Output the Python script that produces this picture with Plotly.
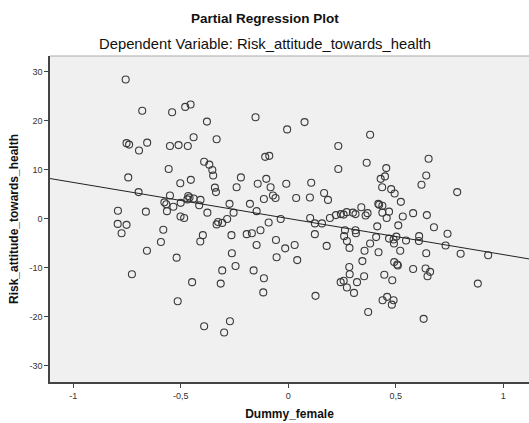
import plotly.graph_objects as go

# Partial regression residuals: Dummy_female (x) vs Risk_attitude_towards_health (y)
dummy_female = [
    -0.756, -0.679, -0.540, -0.479, -0.454, -0.378, -0.752, -0.740, -0.656, -0.694,
    -0.550, -0.510, -0.467, -0.440, -0.391, -0.367, -0.556, -0.744, -0.502, -0.453,
    -0.696, -0.550, -0.465, -0.459, -0.440, -0.469, -0.408, -0.576, -0.567, -0.500,
    -0.534, -0.414, -0.792, -0.662, -0.564, -0.376, -0.501, -0.484, -0.793, -0.752,
    -0.775, -0.581, -0.592, -0.397, -0.409, -0.657, -0.519, -0.727, -0.447, -0.514,
    -0.391, -0.353, -0.349, -0.341, -0.336, -0.333, -0.152, -0.005, 0.076, 0.233,
    0.381, -0.107, -0.088, 0.233, 0.365, -0.220, -0.102, -0.240, -0.142, -0.082,
    -0.009, 0.107, -0.071, -0.059, -0.113, 0.037, 0.101, 0.167, 0.185, -0.273,
    -0.178, -0.254, -0.147, 0.340, 0.222, 0.245, 0.258, 0.272, 0.301, 0.313,
    0.360, 0.369, 0.194, 0.102, -0.035, -0.326, -0.307, -0.333, -0.284, -0.091,
    0.124, 0.157, -0.264, -0.193, -0.169, -0.129, -0.057, -0.147, -0.014, 0.030,
    0.124, 0.179, 0.264, 0.313, 0.315, 0.260, 0.273, 0.285, 0.355, 0.381,
    -0.262, -0.054, 0.042, 0.345, -0.307, -0.245, -0.161, -0.113, -0.314, -0.116,
    0.127, 0.284, 0.286, 0.353, 0.244, 0.258, 0.273, 0.320, 0.306, 0.372,
    -0.271, -0.298, 0.653, 0.456, 0.430, 0.450, 0.642, 0.437, 0.620, 0.479,
    0.495, 0.786, 0.524, 0.419, 0.423, 0.438, 0.438, 0.469, 0.458, 0.533,
    0.581, 0.645, 0.414, 0.512, 0.678, 0.741, 0.409, 0.469, 0.492, 0.503,
    0.548, 0.609, 0.608, 0.420, 0.521, 0.642, 0.732, 0.802, 0.930, 0.493,
    0.507, 0.510, 0.581, 0.639, 0.660, 0.648, 0.447, 0.484, 0.882, 0.460,
    0.439, 0.490, 0.482, 0.630, 0.490,
]
risk_attitude = [
    28.4, 22.0, 21.7, 22.8, 23.3, 19.8, 15.4, 15.1, 15.5, 13.9,
    14.8, 15.0, 14.8, 16.6, 11.6, 11.0, 10.1, 8.4, 7.2, 7.9,
    5.4, 4.7, 4.6, 4.3, 4.1, 3.9, 3.8, 3.3, 2.9, 3.2,
    2.4, 2.7, 1.6, 1.4, 1.5, 1.2, 0.4, 0.1, -1.1, -1.3,
    -3.0, -2.3, -4.8, -3.4, -4.7, -6.6, -8.0, -11.4, -13.0, -16.9,
    -22.0, 9.9, 8.8, 6.3, 5.4, 16.2, 20.7, 18.2, 19.7, 14.8,
    17.1, 12.6, 12.8, 10.1, 11.4, 8.4, 8.1, 6.4, 7.1, 6.4,
    7.1, 7.3, 4.7, 4.2, 4.0, 4.2, 4.3, 5.2, 3.8, 3.0,
    3.0, 1.2, 1.5, 2.3, 0.7, 0.9, 0.8, 1.3, 1.2, 0.9,
    0.6, 1.1, 0.1, 0.1, -0.1, -0.7, -0.9, -1.2, -0.1, -0.8,
    -1.0, -1.0, -3.4, -3.2, -3.0, -2.4, -4.4, -5.4, -6.1, -5.4,
    -3.2, -5.6, -2.4, -2.4, -3.0, -3.6, -4.6, -6.0, -6.6, -5.1,
    -7.1, -7.9, -8.5, -8.7, -10.6, -9.7, -10.6, -12.2, -13.3, -15.1,
    -15.8, -9.9, -11.4, -11.8, -13.0, -12.7, -14.1, -13.0, -15.2, -19.1,
    -21.0, -23.3, 12.2, 10.3, 8.1, 8.6, 8.8, 6.4, 6.9, 6.0,
    5.1, 5.4, 3.4, 3.0, 2.8, 2.6, 1.2, 1.4, 0.1, 0.4,
    1.1, 0.7, -1.6, -1.4, -1.8, -3.1, -3.8, -4.1, -5.1, -3.7,
    -4.5, -3.6, -4.6, -6.9, -6.6, -7.1, -5.5, -7.2, -7.5, -8.9,
    -9.4, -9.6, -10.3, -10.2, -10.9, -11.8, -11.5, -12.6, -13.3, -16.0,
    -16.7, -16.7, -17.6, -20.5, -4.3,
]

# Fit line (slope, intercept)
fit_slope = -7.37
fit_intercept = 0.0

x_range = [-1.108, 1.12]
y_range = [-33.4, 33.2]
x_tickvals = [-1, -0.5, 0, 0.5, 1]
x_ticktext = ["-1", "-0,5", "0", "0,5", "1"]
y_tickvals = [30, 20, 10, 0, -10, -20, -30]
y_ticktext = ["30", "20", "10", "0", "-10", "-20", "-30"]

FONT = "Liberation Sans, Arial, sans-serif"

fig = go.Figure()
fig.add_trace(go.Scatter(
    x=dummy_female, y=risk_attitude, mode="markers",
    marker=dict(symbol="circle-open", size=7, color="#3a3a3a", line=dict(width=1.1, color="#3a3a3a")),
    showlegend=False, hoverinfo="skip",
))
fig.add_trace(go.Scatter(
    x=x_range, y=[fit_intercept + fit_slope * v for v in x_range], mode="lines",
    line=dict(color="#222222", width=1), showlegend=False, hoverinfo="skip",
))

fig.update_layout(
    width=529, height=423,
    margin=dict(l=50, r=0, t=56, b=41),
    paper_bgcolor="white", plot_bgcolor="#F0F0F0",
    font=dict(family=FONT, color="#222"),
    xaxis=dict(
        range=x_range, tickvals=x_tickvals, ticktext=x_ticktext,
        showgrid=False, zeroline=False, showline=True, linecolor="#444", linewidth=1.5,
        ticks="outside", ticklen=4, tickcolor="#444", tickfont=dict(size=9, color="#333"),
        title=dict(text="<b>Dummy_female</b>", font=dict(size=12, color="#111"), standoff=10),
    ),
    yaxis=dict(
        range=y_range, tickvals=y_tickvals, ticktext=y_ticktext,
        showgrid=False, zeroline=False, showline=True, linecolor="#444", linewidth=1.5,
        ticks="outside", ticklen=4, tickcolor="#444", tickfont=dict(size=9, color="#333"),
        title=dict(text="<b>Risk_attitude_towards_health</b>", font=dict(size=12, color="#111"), standoff=8),
    ),
    annotations=[
        dict(text="<b>Partial Regression Plot</b>", xref="paper", yref="paper",
             x=0.448, y=1, yshift=38, yanchor="middle", showarrow=False,
             font=dict(size=13.5, color="#111")),
        dict(text="Dependent Variable: Risk_attitude_towards_health", xref="paper", yref="paper",
             x=0.448, y=1, yshift=12, yanchor="middle", showarrow=False,
             font=dict(size=14.8, color="#111")),
    ],
    shapes=[dict(type="line", xref="paper", yref="paper", x0=0, x1=1, y0=1, y1=1,
                 line=dict(color="#aaaaaa", width=1))],
)

fig.write_html("out.html")
